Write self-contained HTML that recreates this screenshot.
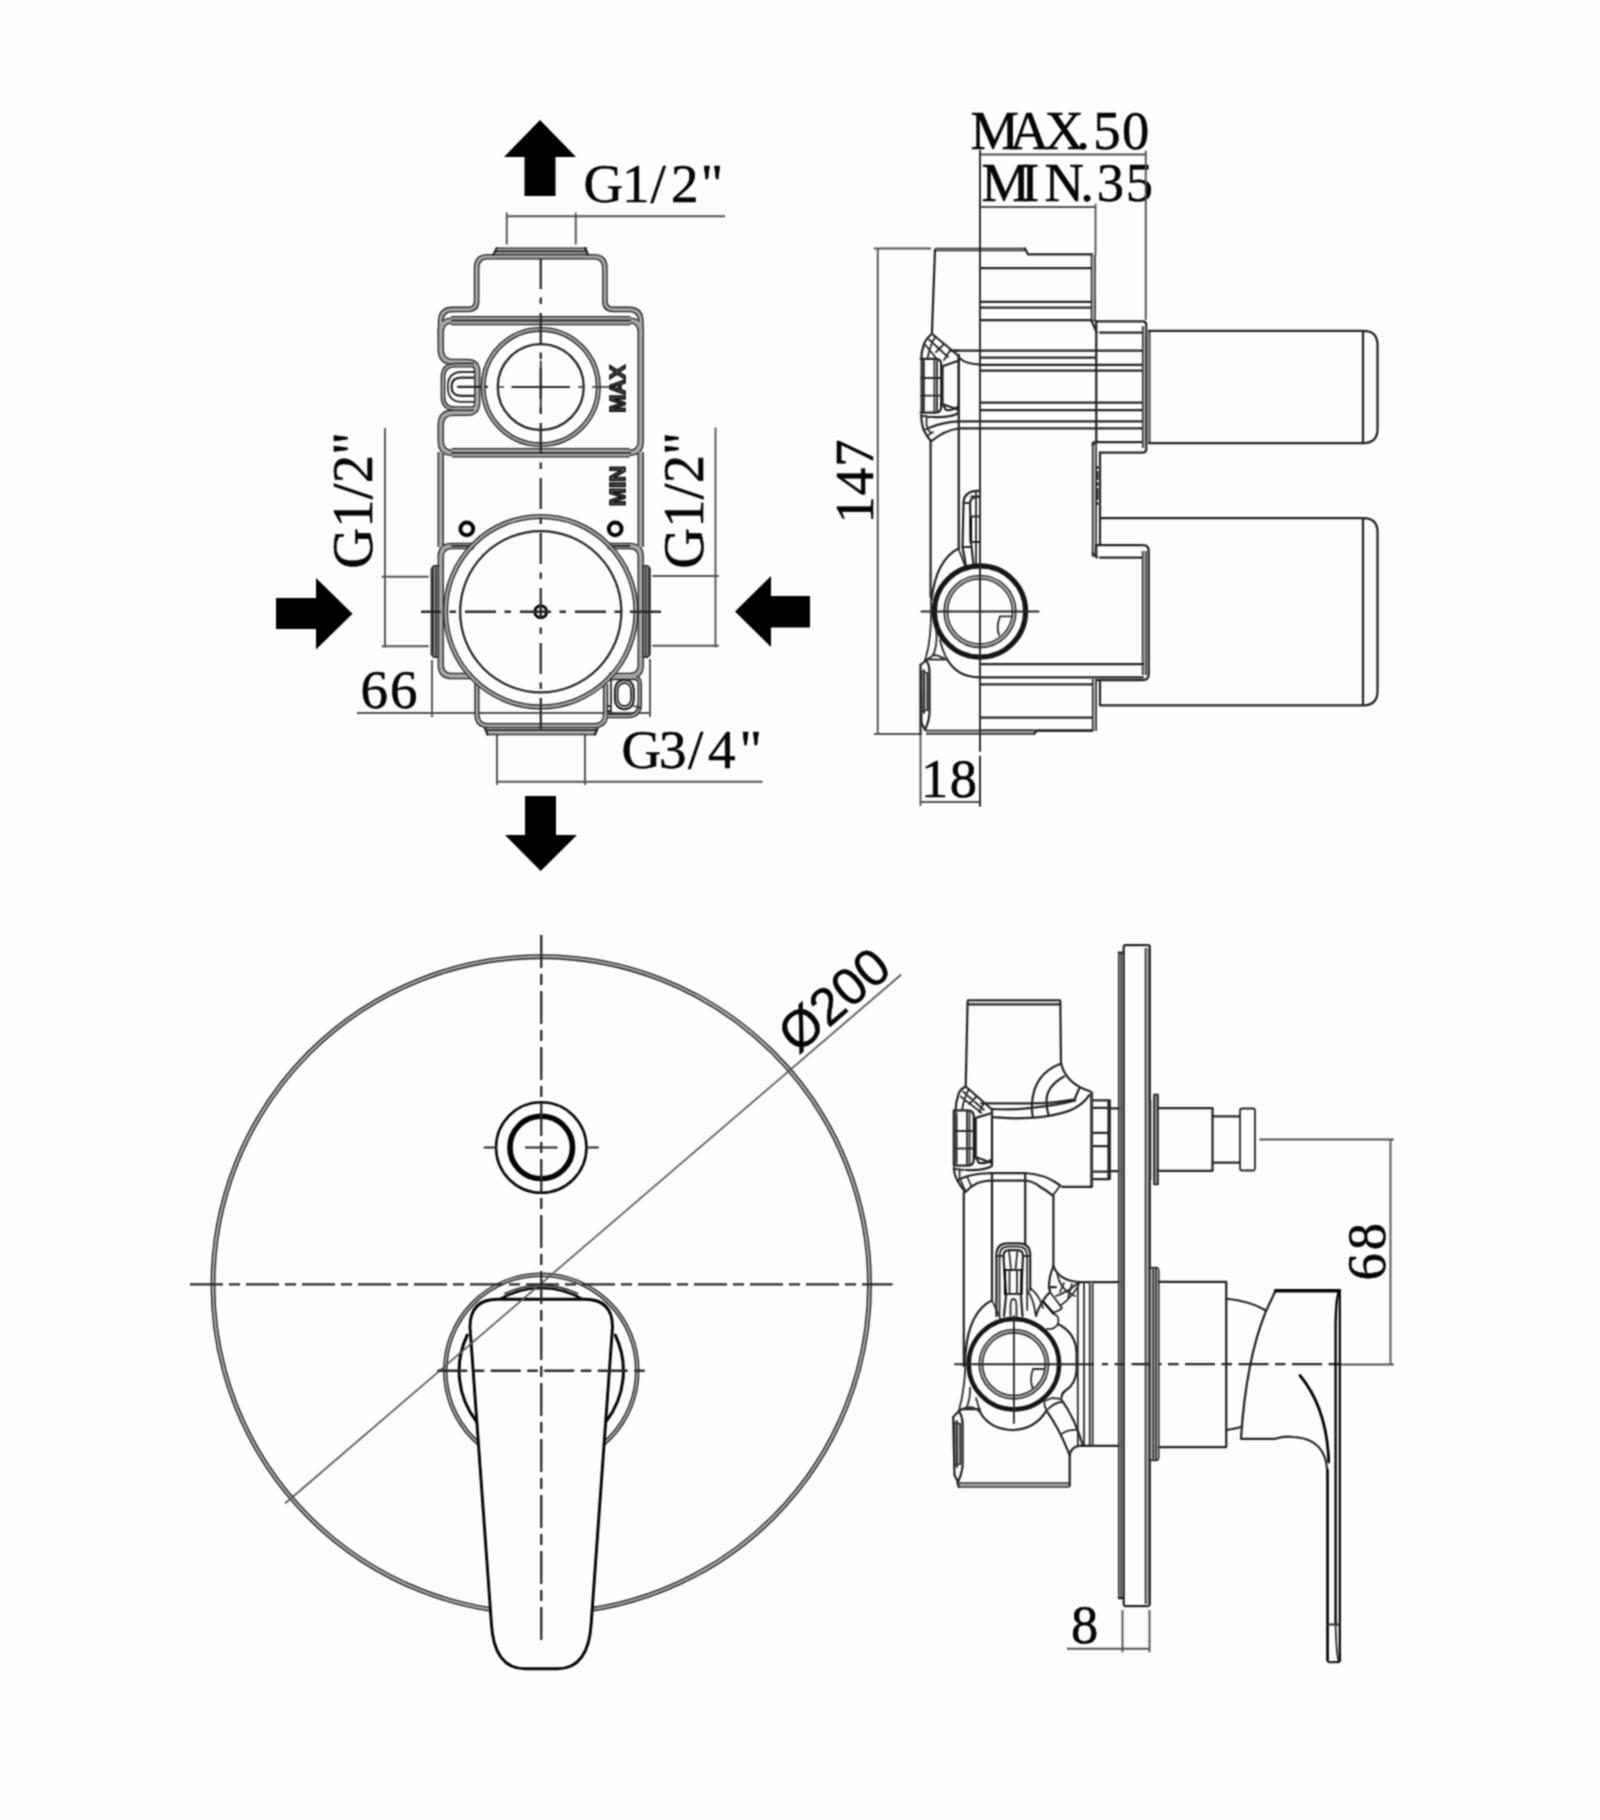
<!DOCTYPE html>
<html>
<head>
<meta charset="utf-8">
<title>Technical drawing</title>
<style>
html,body{margin:0;padding:0;background:#fdfdfd;}
body{width:1600px;height:1820px;overflow:hidden;font-family:"Liberation Serif",serif;}
svg{display:block;}
.l{fill:none;stroke:#262626;stroke-width:2.25;stroke-linecap:round;stroke-linejoin:round;}
.m{fill:none;stroke:#2c2c2c;stroke-width:1.8;stroke-linecap:round;stroke-linejoin:round;}
.t{fill:none;stroke:#525252;stroke-width:1.9;}
.c{fill:none;stroke:#2a2a2a;stroke-width:2.3;}
.k{fill:none;stroke:#050505;stroke-width:2.5;stroke-linecap:round;stroke-linejoin:round;}
.b{fill:#000;stroke:none;}
.s{font-family:"Liberation Serif",serif;fill:#050505;stroke:#050505;stroke-width:0.55;}
.ss{font-family:"Liberation Sans",sans-serif;fill:#050505;stroke:#050505;stroke-width:0.5;}
.o{font-family:"Liberation Sans",sans-serif;font-weight:bold;fill:#5a5a5a;stroke:#111;stroke-width:1.7;}
</style>
</head>
<body>
<svg width="1600" height="1820" viewBox="0 0 1600 1820">
<rect x="0" y="0" width="1600" height="1820" fill="#fdfdfd"/>
<defs><filter id="bl" x="0" y="0" width="1600" height="1820" filterUnits="userSpaceOnUse" color-interpolation-filters="sRGB"><feConvolveMatrix order="3" kernelMatrix="1 2 1 2 5 2 1 2 1" divisor="17" edgeMode="duplicate" preserveAlpha="false"/></filter></defs>
<g filter="url(#bl)">

<g id="A">
<polygon class="b" points="540,120 576,157 555.5,157 555.5,196 524.5,196 524.5,157 504,157"/>
<polygon class="b" points="525,796 556,796 556,835 577,835 540.75,871 505,835 525,835"/>
<polygon class="b" points="276,598 316,598 316,578 352.5,613.75 316,649.5 316,629 276,629"/>
<polygon class="b" points="735,611.5 771,576 771,596 810,596 810,627.5 771,627.5 771,647"/>
<text class="s" x="583.5 622 650.5 671 700.8" y="202" font-size="55">G1/2"</text>
<text class="s" x="621.5 659 688 708 739.5" y="767.5" font-size="55">G3/4"</text>
<text class="s" font-size="56.5" textLength="137" lengthAdjust="spacing" transform="translate(372,568.8) rotate(-90)">G1/2"</text>
<text class="s" font-size="56.5" textLength="137" lengthAdjust="spacing" transform="translate(703,568.8) rotate(-90)">G1/2"</text>
<text class="s" x="360.5" y="708" font-size="55" textLength="57" lengthAdjust="spacing">66</text>
<path class="t" d="M506,216.25H725M506.75,212.5V244.5M575.75,212.5V244.5"/>
<path class="t" d="M497,781.75H762.5M497,735V785M585,735V785"/>
<path class="t" d="M385,428V647.5M381.75,576.75H428.75M381.75,646.25H428.75"/>
<path class="t" d="M715.5,427.5V647.5M652.5,576H718.75M652.5,645.75H718.75"/>
<path class="t" d="M357,713H650M432,660V717M650,659V717"/>
<path d="M496,251.4H587" fill="none" stroke="#262626" stroke-width="8.00" stroke-linejoin="round"/>
<path d="M440.6,336V322Q440.6,309.4 452.5,309.4H468.5Q476.6,309.4 476.6,301V268Q476.6,256.7 487.5,256.7H594Q604.9,256.7 604.9,268V301Q604.9,309.4 613,309.4H629Q640.9,309.4 640.9,322V336" fill="none" stroke="#262626" stroke-width="5.60" stroke-linejoin="round"/>
<path d="M451,320.6H630.5" fill="none" stroke="#262626" stroke-width="9.20" stroke-linejoin="round"/>
<path d="M452,452.75H629.5" fill="none" stroke="#262626" stroke-width="9.40" stroke-linejoin="round"/>
<path d="M452,320.6Q440.75,320.6 440.75,332V349Q440.75,362 453,362H467Q477.2,362 477.2,372V402Q477.2,412.8 467,412.8H453Q440.75,412.8 440.75,425V441Q440.75,452.8 452,452.8" fill="none" stroke="#262626" stroke-width="6.40" stroke-linejoin="round"/>
<path d="M629.5,320.6Q640.75,320.6 640.75,332V441Q640.75,452.8 629.5,452.8" fill="none" stroke="#262626" stroke-width="6.40" stroke-linejoin="round"/>
<path d="M440.75,452V547" fill="none" stroke="#262626" stroke-width="6.40" stroke-linejoin="round"/>
<path d="M640.75,452V547" fill="none" stroke="#262626" stroke-width="6.40" stroke-linejoin="round"/>
<path d="M474,546H452Q440.75,546 440.75,557V665Q440.75,676 452,676H472" fill="none" stroke="#262626" stroke-width="6.40" stroke-linejoin="round"/>
<path d="M607.5,546H629.5Q640.75,546 640.75,557V665Q640.75,676 629.5,676H609" fill="none" stroke="#262626" stroke-width="6.40" stroke-linejoin="round"/>
<path d="M476.9,682V714Q476.9,725.6 488,725.6H594.5Q605.6,725.6 605.6,714V684" fill="none" stroke="#262626" stroke-width="5.25" stroke-linejoin="round"/>
<path d="M486.5,731H595.5" fill="none" stroke="#262626" stroke-width="8.50" stroke-linejoin="round"/>
<path d="M607.5,677.9H634.5Q639.75,677.9 639.75,683.5V703.5Q639.75,716 627.5,716H607.5" fill="none" stroke="#262626" stroke-width="4.50" stroke-linejoin="round"/>
<path d="M496,251.4H587" fill="none" stroke="#a6a6a6" stroke-width="5.40" stroke-linejoin="round"/>
<path d="M440.6,336V322Q440.6,309.4 452.5,309.4H468.5Q476.6,309.4 476.6,301V268Q476.6,256.7 487.5,256.7H594Q604.9,256.7 604.9,268V301Q604.9,309.4 613,309.4H629Q640.9,309.4 640.9,322V336" fill="none" stroke="#a6a6a6" stroke-width="3.00" stroke-linejoin="round"/>
<path d="M451,320.6H630.5" fill="none" stroke="#a6a6a6" stroke-width="6.60" stroke-linejoin="round"/>
<path d="M452,452.75H629.5" fill="none" stroke="#a6a6a6" stroke-width="6.80" stroke-linejoin="round"/>
<path d="M452,320.6Q440.75,320.6 440.75,332V349Q440.75,362 453,362H467Q477.2,362 477.2,372V402Q477.2,412.8 467,412.8H453Q440.75,412.8 440.75,425V441Q440.75,452.8 452,452.8" fill="none" stroke="#a6a6a6" stroke-width="3.80" stroke-linejoin="round"/>
<path d="M629.5,320.6Q640.75,320.6 640.75,332V441Q640.75,452.8 629.5,452.8" fill="none" stroke="#a6a6a6" stroke-width="3.80" stroke-linejoin="round"/>
<path d="M440.75,452V547" fill="none" stroke="#a6a6a6" stroke-width="3.80" stroke-linejoin="round"/>
<path d="M640.75,452V547" fill="none" stroke="#a6a6a6" stroke-width="3.80" stroke-linejoin="round"/>
<path d="M474,546H452Q440.75,546 440.75,557V665Q440.75,676 452,676H472" fill="none" stroke="#a6a6a6" stroke-width="3.80" stroke-linejoin="round"/>
<path d="M607.5,546H629.5Q640.75,546 640.75,557V665Q640.75,676 629.5,676H609" fill="none" stroke="#a6a6a6" stroke-width="3.80" stroke-linejoin="round"/>
<path d="M476.9,682V714Q476.9,725.6 488,725.6H594.5Q605.6,725.6 605.6,714V684" fill="none" stroke="#a6a6a6" stroke-width="2.65" stroke-linejoin="round"/>
<path d="M486.5,731H595.5" fill="none" stroke="#a6a6a6" stroke-width="5.90" stroke-linejoin="round"/>
<path d="M607.5,677.9H634.5Q639.75,677.9 639.75,683.5V703.5Q639.75,716 627.5,716H607.5" fill="none" stroke="#a6a6a6" stroke-width="1.90" stroke-linejoin="round"/>
<path d="M438.3,565.8H434L431.4,568.5V654.5L434,657.3H438.3Z" fill="#c2c2c2" stroke="#2a2a2a" stroke-width="1.5"/>
<path class="m" d="M432.9,567V656M435.8,566V657"/>
<path d="M643.2,565.8H647.5L650.1,568.5V654.5L647.5,657.3H643.2Z" fill="#c2c2c2" stroke="#2a2a2a" stroke-width="1.5"/>
<path class="m" d="M648.6,567V656M645.7,566V657"/>
<path class="m" d="M496,251.4H587M452,320.5H630M452,452.8H630M452,546H472M609,546H629.5M487,730.2H596"/>
<path class="l" d="M493.5,254.8L496.6,248.2M588,254.8L585,248.2M485,728.5L487.5,734.5M597.5,728.5L595,734.5"/>
<path d="M474,365.2H455Q443,365.2 443,377V397Q443,408.6 455,408.6H474" fill="none" stroke="#262626" stroke-width="4.70" stroke-linejoin="round"/>
<path d="M474,365.2H455Q443,365.2 443,377V397Q443,408.6 455,408.6H474" fill="none" stroke="#a6a6a6" stroke-width="2.10" stroke-linejoin="round"/>
<path class="l" d="M474,377.7H461Q451.5,377.7 451.5,386.8Q451.5,395.8 461,395.8H474"/>
<path class="m" d="M474,372H460Q447.8,373 447.8,386.8Q447.8,401 460,401.8H474"/>
<path class="l" d="M458,386.9H487"/>
<circle cx="540.75" cy="387" r="57.6" fill="none" stroke="#262626" stroke-width="5.00"/>
<circle cx="540.75" cy="387" r="57.6" fill="none" stroke="#a6a6a6" stroke-width="2.40"/>
<circle class="l" cx="540.75" cy="387" r="43"/>
<path class="c" d="M511.5,387H570M540.75,360.5V413.5" style="stroke-width:1.8"/>
<path class="c" d="M498,387H504M578,387H584M592,387H612" style="stroke-width:1.7"/>
<text class="o" font-size="22" textLength="47.5" lengthAdjust="spacingAndGlyphs" transform="translate(625,412.5) rotate(-90)">MAX</text>
<text class="o" font-size="22" textLength="40" lengthAdjust="spacingAndGlyphs" transform="translate(625,506) rotate(-90)">MIN</text>
<circle cx="466.8" cy="528.9" r="6.4" fill="none" stroke="#050505" stroke-width="3.9"/>
<circle cx="615.2" cy="528.9" r="6.4" fill="none" stroke="#050505" stroke-width="3.9"/>
<circle cx="540.75" cy="611.75" r="95.25" fill="none" stroke="#262626" stroke-width="5.00"/>
<circle cx="540.75" cy="611.75" r="95.25" fill="none" stroke="#a6a6a6" stroke-width="2.40"/>
<circle class="l" cx="540.75" cy="611.75" r="80.6"/>
<circle cx="540.75" cy="611.75" r="6" fill="none" stroke="#050505" stroke-width="2.9"/>
<path class="m" d="M535,611.75H546.5M540.75,606V617.5"/>
<rect class="l" x="615" y="680" width="18.75" height="29" rx="8.5" ry="9.5"/>
<rect class="m" x="617.6" y="683" width="13.5" height="23" rx="6.5" ry="7.5"/>
<path class="m" d="M611,679.5V714.5M607.5,706H611M607.5,711H611M634,706L641,708"/>
<path class="c" d="M540.75,255V735" stroke-dasharray="31 8.5 6.5 9" stroke-dashoffset="-3"/>
<path class="c" d="M421,611.75H661" stroke-dasharray="31 8.5 6.5 9" stroke-dashoffset="11"/>
</g>
<g id="C">
<circle cx="541.25" cy="1285" r="328.3" fill="none" stroke="#262626" stroke-width="4.90"/>
<circle cx="541.25" cy="1285" r="328.3" fill="none" stroke="#a6a6a6" stroke-width="2.30"/>
<circle cx="541.25" cy="1147.5" r="45.2" fill="none" stroke="#0a0a0a" stroke-width="2.6"/>
<circle cx="541.25" cy="1147.5" r="31.3" fill="none" stroke="#050505" stroke-width="5.6"/>
<path class="c" d="M483.75,1147.5H497M525,1147.5H557.5M585.5,1147.5H598.75" style="stroke-width:1.8"/>
<circle cx="541.25" cy="1370.75" r="96" fill="none" stroke="#262626" stroke-width="4.50"/>
<circle cx="541.25" cy="1370.75" r="96" fill="none" stroke="#a6a6a6" stroke-width="1.90"/>
<path class="k" d="M467.3,1335A82.5,82.5 0 0 0 476.5,1421.5M615.2,1335A82.5,82.5 0 0 1 606,1421.5" style="stroke-width:3"/>
<path class="k" d="M497,1300.8A82.5,82.5 0 0 1 585.5,1300.8" style="stroke-width:2.6"/>
<path class="m" d="M505,1293.5A85.5,85.5 0 0 1 577.5,1293.5"/>
<path class="k" d="M497.5,1299.25H585Q612.5,1299.25 612.5,1327L591.3,1622Q589,1668.75 557.5,1668.75H525Q493.5,1668.75 491.3,1622L470,1327Q470,1299.25 497.5,1299.25Z" fill="#fdfdfd" style="fill:#fdfdfd;stroke-width:2.9"/>
<path class="t" d="M285,1503.5L901.25,974.5" style="stroke:#5a5a5a;stroke-width:1.7"/>
<text class="ss" font-size="52" transform="translate(797.5,1054.8) rotate(-40.7)">Ø200</text>
<path class="c" d="M190,1284.4H892.5" stroke-dasharray="33 6 11 6" stroke-dashoffset="0"/>
<path class="c" d="M541.25,935V1640" stroke-dasharray="33 6 11 6" stroke-dashoffset="0"/>
<path class="c" d="M431.25,1370.75H651.25" stroke-dasharray="30 6.5 10.5 6.5" stroke-dashoffset="-6"/>
</g>
<g id="B">
<text class="s" x="970.4 1009.7 1044.5 1076.3 1093.3 1122" y="149" font-size="54.5">MAX.50</text>
<text class="s" x="981.4 1021 1044.5 1080.2 1096.8 1125.7" y="200.9" font-size="54.5">MIN.35</text>
<text class="s" font-size="54.5" textLength="84" lengthAdjust="spacing" transform="translate(873,523.5) rotate(-90)">147</text>
<text class="s" x="921" y="797" font-size="54.5" textLength="56" lengthAdjust="spacing">18</text>
<path class="t" d="M980,154.5H1145.75M981,207H1095.5M1145.75,150.75V320M1095.5,203.75V255"/>
<path class="t" d="M877.75,248.5V734M874,248.5H931M874,734H920.5"/>
<path class="t" d="M920.5,802H980M920.5,734V806"/>
<path class="l" d="M1148.75,330.75H1363.5Q1377.5,330.75 1377.5,345V429Q1377.5,443 1363.5,443H1148.75M1363,330.75V443"/>
<path class="l" d="M1100,518H1363.5Q1377.5,518 1377.5,532V691Q1377.5,705.25 1363.5,705.25H1100M1363,518V705.25"/>
<path d="M936,249.5H1025" fill="none" stroke="#262626" stroke-width="3.70" stroke-linejoin="round"/>
<path d="M936,249.5H1025" fill="none" stroke="#a6a6a6" stroke-width="1.10" stroke-linejoin="round"/>
<path class="l" d="M1025,248.5L1028,254.25H1092"/>
<path class="l" d="M935,249.5L931.9,333.75"/>
<path class="l" d="M930.6,441V597M958.75,355V548.5"/>
<path class="l" d="M981,268H1095M981,301.75H1095M981,307.5H1095M981,320H1095"/>
<path class="l" d="M950,350.6H1143M981,357.5H1096M981,364.8H1143M981,370.5H1143M981,402.5H1143M981,410H1143M958.75,421.3H1143M958.75,428.3H1143"/>
<path d="M1093.3,255V320" fill="none" stroke="#262626" stroke-width="5.10" stroke-linejoin="round"/>
<path d="M1093.3,255V320" fill="none" stroke="#a6a6a6" stroke-width="2.50" stroke-linejoin="round"/>
<path class="l" d="M1091.3,320L1096.5,332"/>
<path class="l" d="M1096.25,321.25H1143Q1146.25,321.25 1146.25,325V449Q1146.25,452.5 1143,452.5H1100"/>
<path class="l" d="M1100,332.5H1142.5M1096.25,442H1142.5M1096.25,321.25V442"/>
<path d="M1144.4,326V448" fill="none" stroke="#262626" stroke-width="4.90" stroke-linejoin="round"/>
<path d="M1148.2,332V442" fill="none" stroke="#262626" stroke-width="4.50" stroke-linejoin="round"/>
<path d="M1144.4,326V448" fill="none" stroke="#a6a6a6" stroke-width="2.30" stroke-linejoin="round"/>
<path d="M1148.2,332V442" fill="none" stroke="#a6a6a6" stroke-width="1.90" stroke-linejoin="round"/>
<path d="M1094.4,441.5V557" fill="none" stroke="#262626" stroke-width="5.10" stroke-linejoin="round"/>
<path d="M1094.4,441.5V557" fill="none" stroke="#a6a6a6" stroke-width="2.50" stroke-linejoin="round"/>
<path class="l" d="M1100,452.5V545M1092.5,445L1096.5,441M1092.5,553L1097,557.5"/>
<path d="M1097.3,466V506" stroke="#222" stroke-width="2.2" stroke-dasharray="3 2 9 2 4 2 12 2" fill="none"/>
<path class="l" d="M1096.25,545H1143Q1148.75,545 1148.75,551V674Q1148.75,680 1143,680H1096"/>
<path class="l" d="M1100,557.5H1142.5M1096.25,545V557"/>
<path d="M1144.4,551V675" fill="none" stroke="#262626" stroke-width="5.10" stroke-linejoin="round"/>
<path d="M1144.4,551V675" fill="none" stroke="#a6a6a6" stroke-width="2.50" stroke-linejoin="round"/>
<path class="l" d="M981,664H1143M981,677.3H1143M981,684.3H1092.5M981,717.7H1092.5"/>
<path d="M1094.4,679V731" fill="none" stroke="#262626" stroke-width="5.10" stroke-linejoin="round"/>
<path d="M1094.4,679V731" fill="none" stroke="#a6a6a6" stroke-width="2.50" stroke-linejoin="round"/>
<path class="l" d="M1100,680V705M981,730.5H1092.5"/>
<path d="M926,732.2H1034" fill="none" stroke="#262626" stroke-width="4.90" stroke-linejoin="round"/>
<path d="M926,732.2H1034" fill="none" stroke="#a6a6a6" stroke-width="2.30" stroke-linejoin="round"/>
<path class="l" d="M1034,734L1037,730.5H1092"/>
<path d="M921.5,673H927.5V710H921.5Z" fill="#c4c4c4" stroke="none"/>
<path class="l" d="M920.5,665L926,660.5Q929.5,664 929.5,673V712Q929.5,720 925,730L921.5,723L920.5,665ZM920.5,664.5V734"/>
<path class="m" d="M921.5,673V710M924,670V713M927.5,673V710M921,671L927,673M921,712L927,710"/>
<path class="l" d="M947,659Q957,677 979,677.3"/>
<path class="m" d="M925,660L928,659.5H946L947,659.5M946,659.5Q938,655 934,655L926,660"/>
<path class="m" d="M931,600Q932,640 925,660M936,628Q938,645 933,655M940,640Q942,650 947,659"/>
<path class="l" d="M958.5,548.5Q936,560 931.5,600"/>
<path class="m" d="M958.5,548.5L965,566M962.5,547H970.5"/>
<path class="l" d="M980,490.5Q963.5,490.5 963.5,503L962.5,547L966,566M980,496.5Q970,496.5 970,503L971,542L973.5,564.5"/>
<path class="k" d="M970.8,518V542"/>
<path class="m" d="M976,491V564M971,496.5H980M971,516.5H980M971,542H980M963.5,503H970"/>
<path class="l" d="M931.9,333.75Q924.5,340 923.5,346Q921.3,352 921.3,358.75M931.9,333.75L957.5,355M950,350.6H958"/>
<path class="m" d="M925.5,345L936,358M929,339.5L948,357M935.5,336.5Q930,345 927.5,358.75M943,345L936,352M950,350.6L944,360"/>
<path d="M921.5,362H925V410H921.5Z" fill="#9d9d9d" stroke="none"/>
<path d="M922,358.75V413" fill="none" stroke="#262626" stroke-width="3.10" stroke-linejoin="round"/>
<path d="M922,358.75V413" fill="none" stroke="#a6a6a6" stroke-width="0.50" stroke-linejoin="round"/>
<path class="l" d="M920.6,358.75H936Q941.25,358.75 941.25,365V406Q941.25,412.5 936,412.5H920.6"/>
<path class="k" d="M941.5,366Q943,386 941.5,406" style="stroke-width:1.6"/>
<path class="m" d="M923.75,359V412.5M934.4,359V412.5M937,360V411M921,378H941M921,395.6H941"/>
<path class="l" d="M942.5,366.25L957.5,361M942.5,366.25V404L946,410Q953,411 958.75,406M942.5,404L958.75,410"/>
<path class="l" d="M958.75,355V413Q950,418 932,417"/>
<path class="l" d="M921.25,415Q921.5,424 923.75,430Q927,437 931.25,441.25Q945,430 958.75,428.5M930,427.5Q945,421.5 958.75,421.3M958,356Q963,364 981,364.6"/>
<path class="m" d="M923,416L931,417M926.5,416V425Q928,430 930,432M923.75,430L930,427.5M927,436L933,432"/>
<circle cx="980" cy="611.5" r="45.6" fill="none" stroke="#161616" stroke-width="5.2"/>
<circle cx="980" cy="611.5" r="34.2" fill="none" stroke="#262626" stroke-width="5.00"/>
<circle cx="980" cy="611.5" r="34.2" fill="none" stroke="#a6a6a6" stroke-width="2.40"/>
<path class="m" d="M1000,616.3H1011M1000,616.3Q996,626 999,635"/>
<path class="l" d="M921.5,611.5H1038.5" style="stroke-width:1.9"/>
<path class="l" d="M980,150.75V751M980,756.5V806" style="stroke-width:1.9"/>
</g>
<g id="D">
<text class="s" font-size="54.5" textLength="57.5" lengthAdjust="spacing" transform="translate(1385.2,1280.5) rotate(-90)">68</text>
<text class="s" x="1071" y="1642.5" font-size="54.5">8</text>
<path class="t" d="M1259.5,1139.5H1393.75M1390.5,1139.5V1364.5M1340,1364.5H1393.75"/>
<path class="t" d="M1067,1648.75H1150M1122.5,1610V1652.5M1149.5,1610V1652.5"/>
<path d="M1120,952.5V1598" fill="none" stroke="#262626" stroke-width="4.10" stroke-linejoin="round"/>
<path d="M1147.6,948V1604" fill="none" stroke="#262626" stroke-width="5.70" stroke-linejoin="round"/>
<path d="M1120,952.5V1598" fill="none" stroke="#a6a6a6" stroke-width="1.50" stroke-linejoin="round"/>
<path d="M1147.6,948V1604" fill="none" stroke="#a6a6a6" stroke-width="3.10" stroke-linejoin="round"/>
<path class="l" d="M1123.7,1604V946.5Q1123.7,945 1125.5,945H1148Q1149.7,945 1149.7,946.5V1604Q1149.7,1606 1147.5,1606H1125.5Q1123.7,1606 1123.7,1604ZM1118.7,952.5H1123.5M1118.7,1598H1122.5"/>
<path class="l" d="M968,1000.3H1060M968,1004.4H1060"/>
<path class="l" d="M967.6,1001.5L965.7,1086.5M1060.3,1001.5L1061,1063.3"/>
<path class="l" d="M1061,1063.3Q1066,1084 1090.4,1091.5"/>
<path class="l" d="M1060,1064Q1034,1074 1032,1103Q1031.5,1110 1032.7,1116.6"/>
<path class="l" d="M1064,1076.5Q1047,1086 1046.5,1100.3Q1046.5,1108 1048.4,1114.7"/>
<path class="l" d="M1079,1089L1074.7,1099"/>
<path class="l" d="M981.4,1103.4H1031.5Q1055,1103.4 1072.8,1099.7"/>
<path class="l" d="M992.6,1109Q1012,1110 1031.5,1107.8Q1058,1105 1075.3,1100.3"/>
<path class="l" d="M992.6,1117.2Q1012,1119 1030,1117.8Q1060,1116 1075,1108Q1085,1102 1089,1095.3"/>
<path d="M1091.6,1091.5V1186.8" fill="none" stroke="#262626" stroke-width="3.00" stroke-linejoin="round"/>
<path d="M1091.6,1091.5V1186.8" fill="none" stroke="#a6a6a6" stroke-width="0.40" stroke-linejoin="round"/>
<path class="l" d="M1062.2,1186.8H1092"/>
<path class="l" d="M1093.5,1100.3H1109.8V1179.2H1093.5M1093.5,1107.8H1108.5M1093.5,1132.9H1108.5M1093.5,1146H1108.5M1093.5,1171.7H1108.5M1108.5,1100.3V1179.2"/>
<path class="l" d="M1109.8,1108.4H1118.6M1109.8,1171H1118.6"/>
<path class="l" d="M957.5,1180.5Q961,1178 970,1175.5Q980,1173 990,1173H1025.2Q1045,1174 1060.3,1185.5"/>
<path class="l" d="M965.7,1191.8Q971,1186 977.6,1183Q984,1180.5 990,1180.5H1025.2Q1034,1181.5 1040,1186.8Q1047,1191 1052.8,1195.5"/>
<path class="m" d="M1052.8,1195.5L1060.3,1185.5M961,1181L965.7,1191.8M967,1176.5L971.5,1186.5"/>
<path class="l" d="M963.8,1192V1366M992,1173.5V1300M1025.2,1173.5V1245M1053.4,1195.5V1266.4"/>
<path class="l" d="M965.7,1086.5Q959,1090 958.2,1095.3Q955.7,1102 955.7,1110.3M965.7,1086.5L991.4,1109"/>
<path class="m" d="M960.7,1096.5L981.4,1112.8M963,1091.5L984,1110M969,1089Q964,1098 962,1110M976,1097L969,1104M984,1103L979,1112"/>
<path d="M954.2,1114H958V1163H954.2Z" fill="#9d9d9d" stroke="none"/>
<path class="l" d="M953.8,1110.3H968Q973.8,1110.3 973.8,1117V1159Q973.8,1165.5 968,1165.5H953.8Z"/>
<path class="k" d="M974.2,1118Q975.7,1138 974.2,1158" style="stroke-width:1.6"/>
<path class="m" d="M956.3,1111V1165M967,1111V1165M969.5,1112V1164M954,1131H973.5M954,1148.5H973.5"/>
<path class="l" d="M975.7,1117.8L992,1113M975.7,1117.8V1157L979,1163Q986,1164 992,1159.5M975.7,1157L992,1163"/>
<path class="l" d="M992,1109V1166Q983,1171 966,1170"/>
<path class="l" d="M953.8,1168Q954.5,1176 957.5,1180.5Q960.5,1187 965.7,1191.8"/>
<path class="m" d="M955,1169L964,1170M959.5,1169V1178"/>
<path class="l" d="M996.4,1316V1255Q996.4,1243.3 1008,1243.3H1018.5Q1030.2,1243.3 1030.2,1255V1290"/>
<path class="m" d="M999.5,1316V1256Q999.5,1246.5 1008.5,1246.5H1018Q1027.2,1246.5 1027.2,1256V1310"/>
<path class="l" d="M1004,1316L1006,1296L1003.5,1256Q1003.5,1250 1009,1250H1017.5Q1023,1250 1023,1256L1021,1296L1022.5,1316"/>
<path class="m" d="M1009,1250L1011,1270M1017.5,1250L1015.5,1270M1004.5,1270H1022M1005.5,1294H1021M996.4,1256H1003.5M1023,1256H1030.2"/>
<path class="k" d="M1005,1270V1294M1021.5,1270V1294" style="stroke-width:2.2"/>
<path class="m" d="M1009.5,1270V1294M1017,1270V1294M1010.5,1316V1306Q1010.5,1299 1013.5,1299Q1016.5,1299 1016.5,1306V1316"/>
<path class="l" d="M992,1300.3Q969,1312 965.7,1351.7"/>
<path class="m" d="M992,1300.3L1000,1318M1030.2,1288Q1040,1296 1043,1308M1027.2,1290Q1034,1300 1035.5,1314"/>
<path class="l" d="M1053.4,1266.4Q1060,1282 1081.6,1282H1118.6"/>
<path class="l" d="M1053.4,1266.4Q1049,1276 1049,1287L1050,1292Q1040,1302 1036,1316M1049,1287H1056"/>
<path class="m" d="M1057,1273Q1060,1290 1075,1296M1080,1282Q1074,1296 1060,1306M1076.6,1284Q1068,1292 1056,1296M1050,1292L1062,1308Q1056,1313 1052,1312"/>
<path class="k" d="M1043.5,1302L1054,1314" style="stroke-width:2.4"/>
<path class="m" d="M1072,1284L1068,1298M1064,1283L1060,1292M1054,1314Q1060,1316 1058,1324Q1054,1330 1047,1329"/>
<path class="l" d="M1058,1324Q1076,1333 1076.6,1353V1370Q1076,1384 1065,1391Q1062,1393 1061.5,1397"/>
<path class="m" d="M1077.8,1282V1445.8M1084,1282V1445.8"/>
<path d="M1091.2,1282V1445.8" fill="none" stroke="#262626" stroke-width="4.70" stroke-linejoin="round"/>
<path d="M1091.2,1282V1445.8" fill="none" stroke="#a6a6a6" stroke-width="2.10" stroke-linejoin="round"/>
<path class="l" d="M1093.5,1445.8H1118.6"/>
<circle cx="1013.9" cy="1364.2" r="45.2" fill="none" stroke="#161616" stroke-width="4.5"/>
<circle cx="1013.9" cy="1364.2" r="33" fill="none" stroke="#262626" stroke-width="4.90"/>
<circle cx="1013.9" cy="1364.2" r="33" fill="none" stroke="#a6a6a6" stroke-width="2.30"/>
<path class="m" d="M1033,1369H1044.5M1033,1369Q1029.5,1379 1032.5,1388"/>
<path class="l" d="M1013.9,1316V1423" style="stroke-width:1.8"/>
<path class="m" d="M965.7,1352Q966,1385 958.8,1411.3M970,1388Q970.5,1398 966.5,1408M976,1398Q978,1404 980,1412"/>
<path class="l" d="M958.8,1411.3L962,1409H979.5L980,1412Q990,1430 1013.9,1430Q1035,1429 1046.5,1410.7"/>
<path class="m" d="M962,1409Q972,1404 980,1412"/>
<path d="M954.2,1424H960V1464H954.2Z" fill="#c4c4c4" stroke="none"/>
<path class="l" d="M953.2,1417L958.8,1411.3Q962.6,1416 962.6,1424V1464Q962.6,1472 958,1482L954.5,1475L953.2,1417Z"/>
<path class="m" d="M954.5,1424V1464M957,1421V1467M960.3,1424V1464M954,1422L960,1424M954,1466L960,1464"/>
<path d="M958.5,1485H1069" fill="none" stroke="#262626" stroke-width="5.70" stroke-linejoin="round"/>
<path d="M958.5,1485H1069" fill="none" stroke="#a6a6a6" stroke-width="3.10" stroke-linejoin="round"/>
<path class="l" d="M957.5,1482.8L958.8,1487M1069.7,1455.2V1486"/>
<path class="l" d="M1046.5,1410.7Q1060,1430 1069.7,1455.2Q1071,1447 1079.1,1445.8H1092"/>
<path class="l" d="M1060.9,1398.8Q1075,1418 1082.9,1445.8"/>
<path class="m" d="M1046.5,1410.7Q1043.5,1404 1044.5,1401L1052,1398L1060.9,1398.8M1048,1409Q1054,1403 1061.5,1402M1061.5,1434Q1068,1429 1078,1430"/>
<path class="l" d="M955,1364.2H1093" style="stroke-width:1.9"/>
<path class="c" d="M1102,1364.2H1340" stroke-dasharray="30 6.5 10.5 6.5" stroke-dashoffset="24"/>
<path d="M1154,1094.5H1158V1184.5H1154Z" fill="#8d8d8d" stroke="#1a1a1a" stroke-width="1.6" stroke-linejoin="round"/>
<path class="m" d="M1150.5,1100V1180"/>
<path class="l" d="M1158.75,1108H1212.5V1170.75H1158.75M1212.5,1116.25H1240M1212.5,1162.5H1240"/>
<rect class="l" x="1240" y="1108.5" width="15" height="62" rx="2.2" style="stroke-width:1.8"/>
<path d="M1150,1269Q1150,1267.5 1152,1267.5H1156Q1158.75,1267.5 1158.75,1271V1457Q1158.75,1460.5 1156,1460.5H1152Q1150,1460.5 1150,1459Z" fill="#d0d0d0" stroke="#262626" stroke-width="1.5"/>
<path class="m" d="M1153.2,1268V1460M1156,1268V1460"/>
<path class="l" d="M1158.75,1281.75H1226.25V1447H1158.75"/>
<path class="l" d="M1226.25,1298.75Q1250,1301 1266,1310.5M1226.25,1430Q1234,1429 1241,1427"/>
<path class="l" d="M1275.5,1290.75L1266,1311Q1246,1360 1241,1438.75H1275Q1284,1436 1293,1437Q1318,1438 1325,1458Q1327.5,1466 1327.5,1480V1660Q1327.5,1662 1329.5,1662H1338Q1340,1662 1340,1660"/>
<path class="k" d="M1275.5,1290.75H1339.5" style="stroke-width:3.4"/>
<path class="k" d="M1339.8,1290.75V1660" style="stroke-width:2.3"/>
<path class="k" d="M1339,1291Q1335.6,1300 1335.6,1330V1624" style="stroke-width:2.4"/>
<path class="k" d="M1300,1375.5Q1327,1408 1328.75,1462" style="stroke-width:2.8"/>
<path class="k" d="M1327.6,1470V1660" style="stroke-width:2.3"/>
<path class="m" d="M1327.5,1624.5H1340M1335.6,1624Q1336,1650 1338.5,1661"/>
</g>
</g>
</svg>
</body>
</html>
